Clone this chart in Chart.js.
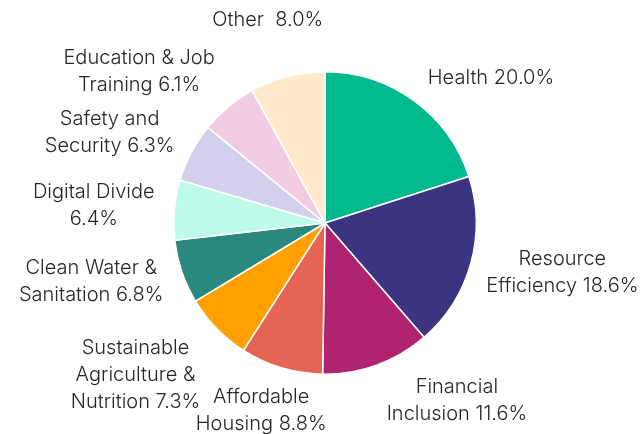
<!DOCTYPE html>
<html>
<head>
<meta charset="utf-8">
<script src="https://cdn.jsdelivr.net/npm/chart.js@4"></script>
<style>
  html, body { margin: 0; padding: 0; background: #ffffff; }
  #wrap { width: 641px; height: 434px; position: relative; }
</style>
</head>
<body>
<div id="wrap"><canvas id="c" width="641" height="434"></canvas></div>
<script>
// ---- data ----
const categories = [
  "Health", "Resource Efficiency", "Financial Inclusion", "Affordable Housing",
  "Sustainable Agriculture & Nutrition", "Clean Water & Sanitation", "Digital Divide",
  "Safety and Security", "Education & Job Training", "Other"
];
const shares = [20.0, 18.6, 11.6, 8.8, 7.3, 6.8, 6.4, 6.3, 6.1, 8.0];
// label text lines (the category name wrapped as in the original)
const labelLines = [
  ["Health 20.0%"],
  ["Resource", "Efficiency 18.6%"],
  ["Financial", "Inclusion 11.6%"],
  ["Affordable", "Housing 8.8%"],
  ["Sustainable", "Agriculture &", "Nutrition 7.3%"],
  ["Clean Water &", "Sanitation 6.8%"],
  ["Digital Divide", "6.4%"],
  ["Safety and", "Security 6.3%"],
  ["Education & Job", "Training 6.1%"],
  ["Other  8.0%"]
];
const sliceColors = [
  "#00B98E", "#3B3480", "#B0246F", "#E66453", "#FF9F00",
  "#2A897E", "#BFFBEA", "#D3D0EB", "#F2CCE2", "#FFEBCC"
];
// layout nudges for the outside labels (px)
const labelNudge = [
  [31, -2], [4, -1], [51, -1], [3, 6], [-24, 10],
  [-8, -3], [-5, -1], [-11, -2], [-31, -6], [-2, -32]
];

const FONT = '300 20px Inter, "Noto Sans", sans-serif';
const LINE_H = 27;

const outsideLabels = {
  id: 'outsideLabels',
  afterDatasetsDraw(chart) {
    const ctx = chart.ctx;
    const meta = chart.getDatasetMeta(0);
    ctx.save();
    ctx.font = FONT;
    ctx.fillStyle = '#262626';
    ctx.textAlign = 'center';
    ctx.textBaseline = 'middle';
    meta.data.forEach((arc, i) => {
      const mid = (arc.startAngle + arc.endAngle) / 2;
      const dx = Math.cos(mid), dy = Math.sin(mid);
      const R = arc.outerRadius + 15;
      const ax = arc.x + dx * R, ay = arc.y + dy * R;
      const lines = labelLines[i];
      let w = 0;
      lines.forEach(l => { w = Math.max(w, ctx.measureText(l).width); });
      const h = (lines.length - 1) * LINE_H + 20;
      const cx = ax + dx * w / 2 + labelNudge[i][0];
      const cy = ay + dy * h / 2 + labelNudge[i][1];
      const top = cy - (lines.length - 1) * LINE_H / 2;
      lines.forEach((l, k) => ctx.fillText(l, cx, top + k * LINE_H));
    });
    ctx.restore();
  }
};

new Chart(document.getElementById('c'), {
  type: 'pie',
  data: {
    labels: categories,
    datasets: [{
      data: shares,
      backgroundColor: sliceColors,
      borderColor: '#ffffff',
      borderWidth: 1.5
    }]
  },
  options: {
    responsive: false,
    animation: false,
    layout: { padding: { top: 71, bottom: 59, left: 173, right: 164 } },
    plugins: { legend: { display: false }, tooltip: { enabled: false } }
  },
  plugins: [outsideLabels]
});
</script>
</body>
</html>
